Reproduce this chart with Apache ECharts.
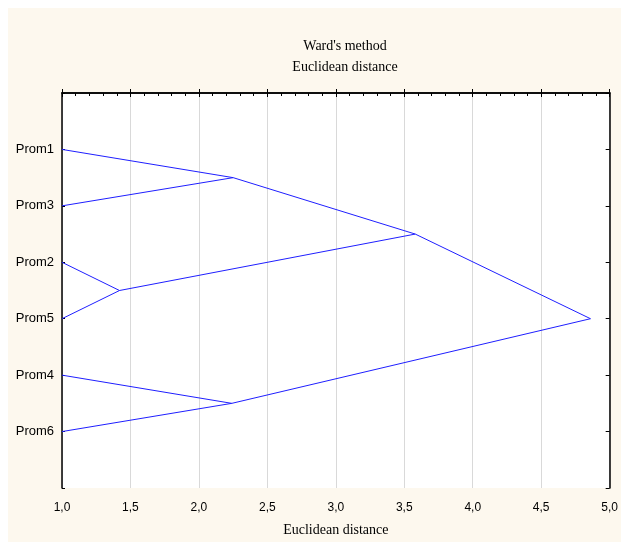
<!DOCTYPE html>
<html><head><meta charset="utf-8">
<script src="https://cdn.jsdelivr.net/npm/echarts@6/dist/echarts.min.js"></script>
<style>html,body{margin:0;padding:0;background:#fff}#c{width:621px;height:542px}</style>
</head><body><div id="c"></div>
<script>
// Leaves, top to bottom
const leaves = ['Prom1', 'Prom3', 'Prom2', 'Prom5', 'Prom4', 'Prom6'];
const leafDistance = 1.0;
// Merge steps (Ward's method): children joined and linkage distance
const mergeNames = ['C1', 'C2', 'C3', 'C4', 'C5'];
const mergeLeft  = ['Prom1', 'Prom2', 'Prom4', 'C1', 'C4'];
const mergeRight = ['Prom3', 'Prom5', 'Prom6', 'C2', 'C3'];
const mergeDist  = [2.25, 1.42, 2.24, 3.58, 4.86];
const xTicks = [1.0, 1.5, 2.0, 2.5, 3.0, 3.5, 4.0, 4.5, 5.0];

const pos = {};
leaves.forEach((n, i) => { pos[n] = [leafDistance, i + 1]; });
mergeNames.forEach((n, i) => {
  const a = pos[mergeLeft[i]], b = pos[mergeRight[i]];
  pos[n] = [mergeDist[i], (a[1] + b[1]) / 2];
});
const series = mergeNames.map((n, i) => ({
  type: 'line',
  data: [pos[mergeLeft[i]], pos[n], pos[mergeRight[i]]],
  symbol: 'none',
  lineStyle: { color: '#1f1fff', width: 1 },
  animation: false,
  silent: true
}));

const chart = echarts.init(document.getElementById('c'), null, { renderer: 'canvas' });
const lblY = v => (v >= 1 && v <= leaves.length && Number.isInteger(v)) ? leaves[v - 1] : '';
chart.setOption({
  backgroundColor: '#ffffff',
  graphic: [{ type: 'rect', shape: { x: 8, y: 8, width: 613, height: 534 }, style: { fill: '#fdf8ee' }, z: -10 }],
  title: {
    text: "Ward's method\nEuclidean distance",
    left: 340, top: 31, textAlign: 'center',
    textStyle: { fontFamily: 'Liberation Serif', fontSize: 14, fontWeight: 'normal', color: '#000', lineHeight: 21 }
  },
  grid: { left: 62, right: 10, top: 93, bottom: 54, show: true, backgroundColor: '#ffffff', borderWidth: 0 },
  xAxis: [{
    type: 'value', min: xTicks[0], max: xTicks[xTicks.length - 1], interval: 0.5, position: 'bottom',
    name: 'Euclidean distance', nameLocation: 'middle', nameGap: 35,
    nameTextStyle: { fontFamily: 'Liberation Serif', fontSize: 14, color: '#000' },
    axisLine: { lineStyle: { color: '#000', width: 1.5 } },
    axisTick: { inside: true, length: 4, lineStyle: { color: '#000' } },
    axisLabel: { fontFamily: 'Liberation Sans', fontSize: 12, color: '#000', margin: 14,
      formatter: v => v.toFixed(1).replace('.', ',') },
    splitLine: { show: true, lineStyle: { color: '#d9d9d9', width: 1 } }
  }, {
    type: 'value', min: xTicks[0], max: xTicks[xTicks.length - 1], interval: 0.5, position: 'top',
    axisLine: { lineStyle: { color: '#000', width: 1.5 } },
    axisTick: { inside: true, length: 4, lineStyle: { color: '#000' } },
    minorTick: { show: true, splitNumber: 5, length: 3, lineStyle: { color: '#000' } },
    axisLabel: { show: false }, splitLine: { show: false }
  }],
  yAxis: [{
    type: 'value', min: 0, max: 7, interval: 1, inverse: true, position: 'left',
    axisLine: { lineStyle: { color: '#000', width: 1.5 } },
    axisTick: { inside: true, length: 3, lineStyle: { color: '#000' } },
    axisLabel: { fontFamily: 'Liberation Sans', fontSize: 13, color: '#000', margin: 8, formatter: lblY },
    splitLine: { show: false }
  }, {
    type: 'value', min: 0, max: 7, interval: 1, inverse: true, position: 'right',
    axisLine: { lineStyle: { color: '#000', width: 1.5 } },
    axisTick: { inside: true, length: 4, lineStyle: { color: '#000' } },
    axisLabel: { show: false }, splitLine: { show: false }
  }],
  series: series
});
</script></body></html>
